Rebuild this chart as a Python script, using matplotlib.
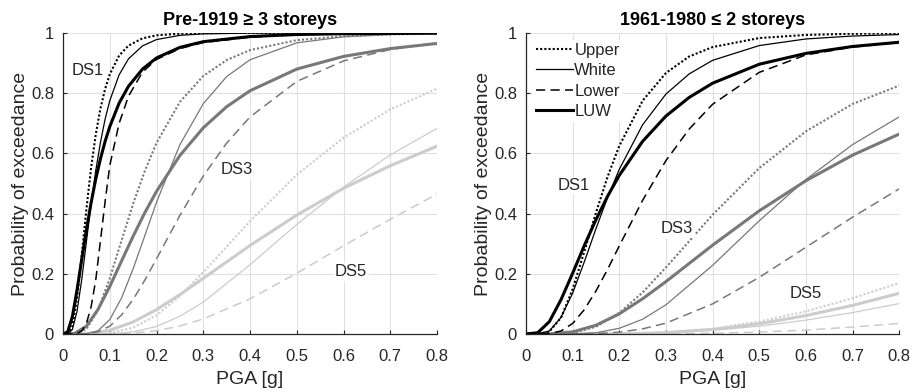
import matplotlib
matplotlib.use("Agg")
import matplotlib.pyplot as plt
from matplotlib.lines import Line2D

plt.rcParams['font.family'] = ['Liberation Sans', 'DejaVu Sans']

pga_fine = [0, 0.01, 0.02, 0.03, 0.04, 0.05, 0.06, 0.07, 0.08, 0.09, 0.1,
            0.12, 0.14, 0.17, 0.2, 0.25, 0.3, 0.4, 0.5, 0.6, 0.8]
pga_mid = [0, 0.025, 0.05, 0.075, 0.1, 0.125, 0.15, 0.175, 0.2, 0.25, 0.3,
           0.35, 0.4, 0.5, 0.6, 0.7, 0.8]
pga_coarse = [0, 0.05, 0.1, 0.15, 0.2, 0.25, 0.3, 0.4, 0.5, 0.6, 0.7, 0.8]

# Pre-1919 >= 3 storeys
pre_ds1_upper = [0, .0006, .026, .119, .262, .415, .552, .663, .749, .814, .863,
                 .925, .958, .982, .992, .9976, .9992, 1, 1, 1, 1]
pre_ds1_white = [0, .0003, .015, .076, .181, .307, .431, .543, .636, .714, .775,
                 .861, .914, .957, .978, .992, .997, .9995, 1, 1, 1]
pre_ds1_lower = [0, 0, 0, .002, .01, .035, .09, .18, .31, .44, .56,
                 .70, .79, .87, .912, .948, .968, .986, .994, .997, .999]
pre_ds1_luw = [0, .007, .058, .147, .248, .346, .436, .515, .582, .640, .689,
               .767, .823, .880, .917, .952, .971, .988, .9947, .9974, .9992]

pre_ds3_upper = [0, .0004, .0166, .080, .185, .310, .433, .542, .635, .771, .857,
                 .910, .943, .976, .989, .995, .9976]
pre_ds3_white = [0, 0, .0008, .011, .048, .119, .217, .327, .438, .629, .765,
                 .855, .911, .967, .987, .9948, .9979]
pre_ds3_lower = [0, 0, .0007, .007, .026, .063, .115, .179, .250, .394, .525,
                 .634, .721, .839, .907, .945, .967]
pre_ds3_luw = [0, .002, .026, .082, .158, .242, .325, .403, .474, .593, .685,
               .755, .808, .880, .922, .948, .965]

pre_ds5_upper = [0, 0, .003, .021, .062, .126, .205, .375, .529, .652, .746, .815]
pre_ds5_white = [0, 0, .0008, .007, .025, .059, .106, .230, .364, .488, .595, .683]
pre_ds5_lower = [0, 0, .0003, .003, .011, .0265, .050, .117, .202, .293, .381, .465]
pre_ds5_luw = [0, .0009, .012, .040, .081, .131, .185, .294, .395, .484, .559, .624]

# 1961-1980 <= 2 storeys
mod_ds1_upper = [0, .0001, .008, .054, .149, .274, .403, .523, .625, .775, .867,
                 .922, .953, .983, .9933, .9972, .9988]
mod_ds1_white = [0, .0002, .010, .055, .136, .240, .350, .454, .547, .695, .797,
                 .864, .909, .958, .980, .9897, .9946]
mod_ds1_lower = [0, 0, .001, .010, .035, .081, .143, .215, .293, .444, .576,
                 .681, .763, .869, .927, .953, .968]
mod_ds1_luw = [0, .0042, .041, .114, .202, .294, .380, .458, .527, .640, .724,
               .786, .833, .896, .932, .955, .969]

mod_ds3_upper = [0, 0, .0035, .024, .070, .138, .221, .396, .551, .673, .764, .825]
mod_ds3_white = [0, 0, .0003, .004, .019, .049, .097, .228, .376, .513, .629, .721]
mod_ds3_lower = [0, 0, .0001, .0012, .006, .017, .036, .100, .188, .288, .388, .482]
mod_ds3_luw = [0, .0003, .007, .029, .067, .117, .174, .295, .409, .509, .594, .664]

mod_ds5_upper = [0, 0, 0, 0, .0005, .0019, .0048, .0174, .041, .075, .119, .169]
mod_ds5_white = [0, 0, 0, 0, .0006, .0018, .004, .012, .026, .046, .071, .101]
mod_ds5_lower = [0, 0, 0, 0, 0, .0002, .0006, .0025, .0064, .013, .023, .035]
mod_ds5_luw = [0, 0, 0, 0, .0006, .0019, .0045, .015, .034, .061, .095, .135]

x_ticks = [0, 0.1, 0.2, 0.3, 0.4, 0.5, 0.6, 0.7, 0.8]
x_tick_labels = ['0', '0.1', '0.2', '0.3', '0.4', '0.5', '0.6', '0.7', '0.8']
y_ticks = [0, 0.2, 0.4, 0.6, 0.8, 1.0]
y_tick_labels = ['0', '0.2', '0.4', '0.6', '0.8', '1']
series_names = ['Upper', 'White', 'Lower', 'LUW']

styles = {
    'Upper': dict(linestyle=(0, (1, 1)), linewidth=1.5),
    'White': dict(linestyle='-', linewidth=0.9),
    'Lower': dict(linestyle=(0, (6, 3.5)), linewidth=1.1),
    'LUW': dict(linestyle='-', linewidth=2.2),
}
ds_colors = {'DS1': 'black', 'DS3': '0.47', 'DS5': '0.8'}
ink = '#262626'


def draw_panel(ax, groups, title, ds_text):
    # groups: list of (damage state, x values, [upper, white, lower, luw])
    for ds, x, ys in reversed(groups):
        for name, y in zip(series_names, ys):
            ax.plot(x, y, color=ds_colors[ds], **styles[name])
    for ds, (tx, ty) in ds_text.items():
        ax.text(tx, ty, ds, fontsize=12, color=ink, ha='center', va='center',
                bbox=dict(facecolor='white', edgecolor='none', pad=1))
    ax.set_xlim(0, 0.8)
    ax.set_ylim(0, 1)
    ax.set_xticks(x_ticks)
    ax.set_xticklabels(x_tick_labels)
    ax.set_yticks(y_ticks)
    ax.set_yticklabels(y_tick_labels)
    ax.grid(True, color='#e0e0e0', linewidth=0.8)
    ax.set_axisbelow(True)
    for side in ['top', 'right']:
        ax.spines[side].set_visible(False)
    for side in ['left', 'bottom']:
        ax.spines[side].set_color(ink)
        ax.spines[side].set_linewidth(0.9)
    ax.tick_params(direction='in', length=3, color=ink, labelcolor=ink,
                   labelsize=12)
    ax.tick_params(axis='x', pad=11)
    ax.tick_params(axis='y', pad=6.5)
    ax.set_xlabel('PGA [g]', fontsize=14, color=ink, labelpad=5)
    ax.set_ylabel('Probability of exceedance', fontsize=14, color=ink,
                  labelpad=1.5)
    ax.set_title(title, fontsize=13, fontweight='bold', pad=6)


fig = plt.figure(figsize=(9.19, 3.92), dpi=100)
ax1 = fig.add_axes([0.0686, 0.148, 0.407, 0.768])
ax2 = fig.add_axes([0.5724, 0.148, 0.406, 0.768])

draw_panel(ax1,
           [('DS1', pga_fine, [pre_ds1_upper, pre_ds1_white, pre_ds1_lower, pre_ds1_luw]),
            ('DS3', pga_mid, [pre_ds3_upper, pre_ds3_white, pre_ds3_lower, pre_ds3_luw]),
            ('DS5', pga_coarse, [pre_ds5_upper, pre_ds5_white, pre_ds5_lower, pre_ds5_luw])],
           'Pre-1919 \u2265 3 storeys',
           {'DS1': (0.053, 0.874), 'DS3': (0.372, 0.545), 'DS5': (0.616, 0.206)})

draw_panel(ax2,
           [('DS1', pga_mid, [mod_ds1_upper, mod_ds1_white, mod_ds1_lower, mod_ds1_luw]),
            ('DS3', pga_coarse, [mod_ds3_upper, mod_ds3_white, mod_ds3_lower, mod_ds3_luw]),
            ('DS5', pga_coarse, [mod_ds5_upper, mod_ds5_white, mod_ds5_lower, mod_ds5_luw])],
           '1961-1980 \u2264 2 storeys',
           {'DS1': (0.102, 0.493), 'DS3': (0.324, 0.349), 'DS5': (0.599, 0.133)})

handles = [Line2D([], [], color='black', **styles[n]) for n in series_names]
leg = ax2.legend(handles, series_names, loc='upper left', fontsize=12,
                 frameon=True, fancybox=False, edgecolor='none',
                 facecolor='white', framealpha=1, handlelength=2.2,
                 handletextpad=0.1, labelspacing=0.32, borderpad=0.2,
                 borderaxespad=0.4)
for t in leg.get_texts():
    t.set_color(ink)

fig.savefig('out.png', dpi=100)
